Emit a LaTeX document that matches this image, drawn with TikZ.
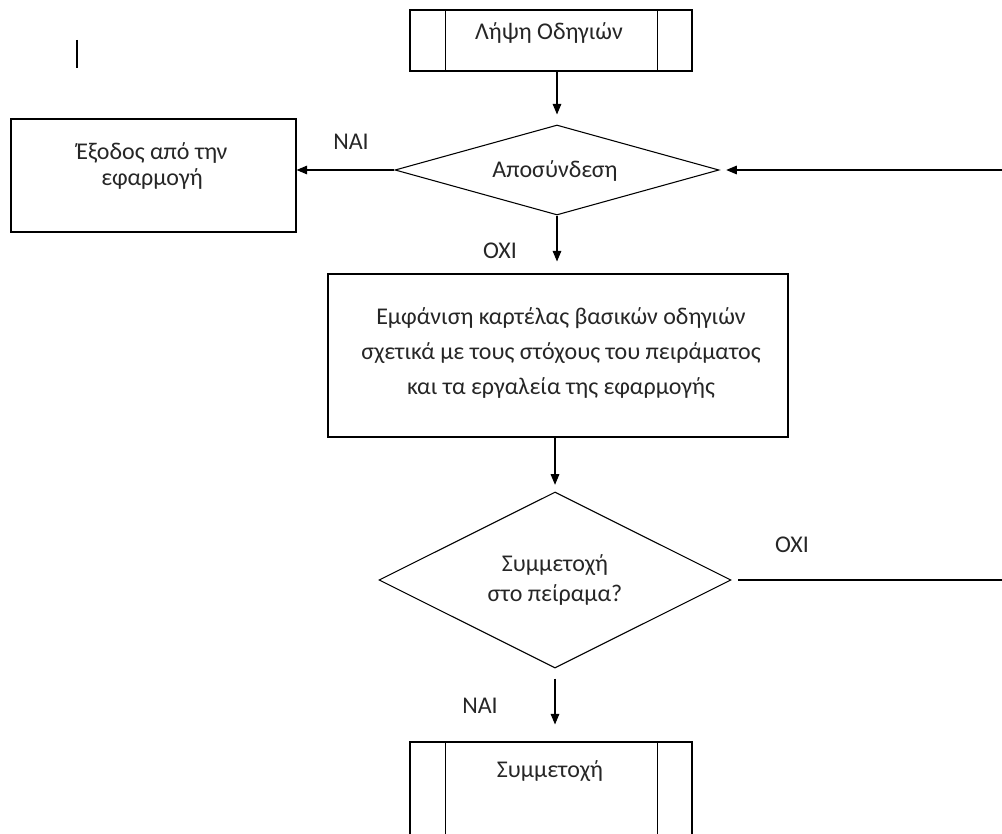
\documentclass[tikz,border=0pt]{standalone}
\usepackage{fontspec}
\setmainfont{Carlito}
\usepackage{tikz}
\usetikzlibrary{arrows.meta, positioning, shapes.geometric, calc}
\tikzset{
  boite/.style={rectangle, draw=black, line width=0.8pt},
  losange/.style={diamond, draw=black, line width=0.8pt, inner sep=2pt},
  texte/.style={align=center, inner sep=0pt, text=black!85, font=\fontsize{18}{25.9}\selectfont},
  fleche/.style={-{Triangle[length=8pt,width=6.5pt]}, line width=0.8pt},
}

\begin{document}
\begin{tikzpicture}[x=0.75pt, y=-0.75pt]
  \useasboundingbox (0,0) rectangle (1002,834);
  \clip (0,0) rectangle (1002,834);
  \draw[line width=0.8pt] (77,40) -- (77,68);

  % boites et losanges
  \node[boite, minimum width=211.5pt, minimum height=45.75pt] (lipsi) at (551,40.5) {};
  \node[texte, anchor=base] (txtlipsi) at (549,40) {Λήψη Οδηγιών};
  \node[losange, aspect=3.6, minimum width=243pt, minimum height=67.5pt] (apo) at (557,170) {};
  \node[texte, anchor=base] (txtapo) at (555,178) {Αποσύνδεση};
  \node[boite, minimum width=213.75pt, minimum height=84.75pt] (exit) at (153.5,175.5) {};
  \node[texte, font=\fontsize{18}{19.5}\selectfont] (txtexit) at (152,165.5) {Έξοδος από την\\εφαρμογή};
  \node[boite, minimum width=345pt, minimum height=122.25pt] (carte) at (558,355.5) {};
  \node[texte] (txtcarte) at (561,353) {Εμφάνιση καρτέλας βασικών οδηγιών\\σχετικά με τους στόχους του πειράματος\\και τα εργαλεία της εφαρμογής};
  \node[losange, aspect=2, minimum width=264pt, minimum height=132pt] (symq) at (555,580) {};
  \node[texte, font=\fontsize{18}{22.5}\selectfont] (txtsymq) at (555,580) {Συμμετοχή\\στο πείραμα?};
  \node[boite, minimum width=211.5pt, minimum height=103.5pt] (symm) at (551,811) {};
  \node[texte, anchor=base] (txtsymm) at (550,777) {Συμμετοχή};
  \foreach \n in {lipsi, symm} {
    \draw[line width=0.8pt] ($(\n.north west)+(36,0)$) -- ($(\n.south west)+(36,0)$);
    \draw[line width=0.8pt] ($(\n.north east)+(-35,0)$) -- ($(\n.south east)+(-35,0)$);
  }

  % reponses
  \node[texte, anchor=base] (nai1) at (351,150) {ΝΑΙ};
  \node[texte, anchor=base] (oxi1) at (500,258) {ΟΧΙ};
  \node[texte, anchor=base] (oxi2) at (792,552) {ΟΧΙ};
  \node[texte, anchor=base] (nai2) at (480,713) {ΝΑΙ};

  % fleches
  \coordinate (droite1) at (1002,170);
  \coordinate (droite2) at (1002,580);
  \draw[fleche, shorten >=7.5pt] (apo.north |- lipsi.south) -- (apo.north);
  \draw[fleche] (apo.west) -- (apo.west -| exit.east);
  \draw[fleche, shorten >=5pt] (droite1) -- (apo.east);
  \draw[fleche, shorten >=9pt] (apo.south) -- (apo.south |- carte.north);
  \draw[fleche, shorten >=5pt] (carte.south -| symq.north) -- (symq.north);
  \draw[line width=0.8pt, shorten <=5pt] (symq.east) -- (droite2);
  \draw[fleche, shorten <=7.5pt, shorten >=12.75pt] (symq.south) -- (symq.south |- symm.north);
\end{tikzpicture}
\end{document}
